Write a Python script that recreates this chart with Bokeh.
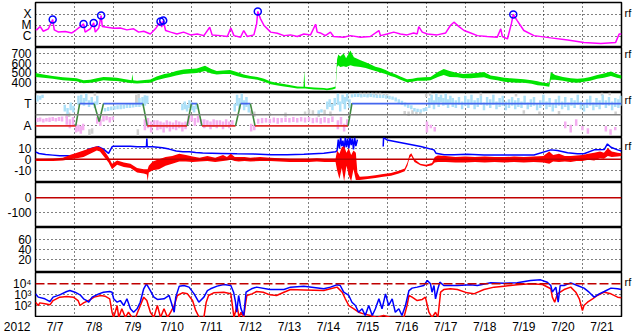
import math
from bokeh.plotting import figure
from bokeh.layouts import column
from bokeh.models import Range1d, FixedTicker, LinearAxis, LogAxis, Span
from bokeh.core.properties import value
from bokeh.embed import file_html
from bokeh.resources import INLINE

# ---------------- data (time in days since 2012-07-07 00:00 UT) ----------------
YEAR = "2012"
DAY_TICKS = [0.5 + i for i in range(15)]
DAY_LABELS = ["7/7", "7/8", "7/9", "7/10", "7/11", "7/12", "7/13", "7/14",
              "7/15", "7/16", "7/17", "7/18", "7/19", "7/20", "7/21"]
DAY_GRID = list(range(1, 15))

# X-ray flux (W/m2)
XRAY = [(0.0, 4e-6), (0.03, 4e-6), (0.12, 8e-6), (0.2, 3e-6), (0.33, 5e-6), (0.44, 3.5e-5),
        (0.48, 4e-6), (0.59, 2.5e-6), (0.76, 2.8e-6), (0.93, 2.1e-6), (1.02, 3.5e-6),
        (1.13, 7e-6), (1.23, 1.4e-5), (1.27, 2.5e-6), (1.40, 5e-6), (1.49, 1.7e-5),
        (1.53, 2.5e-6), (1.62, 6e-6), (1.68, 8e-5), (1.71, 8e-6), (1.83, 7e-6), (2.0, 5.7e-6),
        (2.17, 6e-6), (2.34, 4e-6), (2.51, 5e-6), (2.64, 2.5e-6), (2.77, 3e-6), (2.94, 1.7e-6),
        (3.07, 5e-6), (3.2, 2.3e-5), (3.23, 7e-6), (3.27, 2.8e-5), (3.33, 3.5e-6),
        (3.46, 2.5e-6), (3.62, 1.7e-6), (3.79, 2.5e-6), (3.97, 1.4e-6), (4.14, 1.7e-6),
        (4.31, 1.2e-6), (4.46, 7e-6), (4.52, 1.4e-6), (4.74, 1.2e-6), (4.91, 1e-6),
        (5.0, 6e-6), (5.08, 1.2e-6), (5.25, 8.7e-7), (5.33, 3.5e-6), (5.42, 1e-6),
        (5.59, 1.4e-6), (5.66, 1.4e-5), (5.69, 1.9e-4), (5.76, 4e-5), (5.85, 1e-5),
        (6.02, 2.5e-6), (6.19, 2e-6), (6.36, 1.2e-6), (6.53, 1.4e-6), (6.7, 1e-6),
        (6.87, 1.7e-6), (7.04, 1.4e-6), (7.17, 1.3e-5), (7.21, 2.5e-6), (7.29, 2.1e-6),
        (7.42, 1.2e-6), (7.55, 2.5e-6), (7.63, 1e-6), (7.89, 8.7e-7), (8.06, 1.2e-6),
        (8.32, 8.7e-7), (8.57, 1e-6), (8.79, 3.5e-6), (8.83, 1.2e-6), (9.0, 1.7e-6),
        (9.17, 2.5e-6), (9.34, 1.7e-6), (9.51, 1.4e-6), (9.68, 2.1e-6), (9.77, 1.7e-6),
        (9.81, 8e-6), (9.9, 2.5e-6), (10.03, 1.7e-6), (10.28, 1.4e-6), (10.5, 2.1e-6),
        (10.62, 1e-5), (10.71, 2e-5), (10.84, 8e-6), (10.97, 3.5e-6), (11.14, 2.1e-6),
        (11.31, 1.2e-6), (11.56, 1e-6), (11.82, 8.7e-7), (11.91, 5e-6), (11.95, 1e-6),
        (12.08, 6e-7), (12.18, 1.4e-5), (12.23, 1e-4), (12.33, 2.8e-5), (12.5, 3.5e-6),
        (12.76, 1.2e-6), (13.19, 7.5e-7), (13.62, 4.8e-7), (14.04, 2.9e-7), (14.47, 2.3e-7),
        (14.85, 2.9e-7), (14.94, 1.7e-6), (15.0, 1.7e-6)]
FLARES = [(0.44, 3.5e-5), (1.23, 1.4e-5), (1.49, 1.7e-5), (1.68, 8e-5), (3.2, 2.3e-5),
          (3.27, 2.8e-5), (5.69, 1.9e-4), (12.23, 1e-4)]
XRAY_TICKS = [1e-4, 1e-5, 1e-6]
XRAY_LABELS = ["X", "M", "C"]

# solar wind speed envelope (km/s): t, low, high
WIND = [(0.0, 460, 500), (0.2, 450, 485), (0.44, 440, 470), (0.7, 425, 455), (0.88, 420, 450),
        (1.05, 415, 445), (1.23, 395, 425), (1.4, 400, 430), (1.57, 410, 445), (1.74, 425, 460),
        (1.9, 420, 455), (2.08, 418, 450), (2.3, 405, 435), (2.46, 395, 425), (2.48, 400, 490),
        (2.5, 395, 425), (2.6, 392, 420), (2.8, 398, 428), (2.94, 400, 432), (3.1, 425, 465),
        (3.3, 445, 490), (3.45, 460, 500), (3.6, 475, 520), (3.79, 490, 535), (3.95, 495, 540),
        (4.13, 500, 545), (4.34, 520, 575), (4.5, 495, 540), (4.64, 485, 520), (4.8, 490, 525),
        (4.98, 490, 530), (5.15, 470, 510), (5.33, 450, 485), (5.5, 440, 470), (5.68, 430, 458),
        (5.85, 410, 440), (6.02, 385, 412), (6.2, 372, 398), (6.36, 362, 388), (6.5, 355, 378),
        (6.7, 342, 362), (6.86, 340, 358), (6.88, 340, 520), (6.9, 340, 358), (7.13, 332, 350),
        (7.38, 328, 346), (7.46, 322, 340), (7.6, 330, 350), (7.68, 340, 362), (7.72, 560, 640),
        (7.75, 580, 690), (7.8, 560, 670), (7.89, 570, 700), (7.95, 560, 650), (8.06, 580, 730),
        (8.15, 570, 660), (8.32, 560, 630), (8.45, 550, 610), (8.57, 535, 590), (8.7, 520, 565),
        (8.83, 505, 550), (8.96, 490, 530), (9.09, 470, 505), (9.2, 455, 490), (9.34, 430, 465),
        (9.51, 405, 435), (9.65, 410, 440), (9.77, 420, 450), (9.95, 420, 455), (10.11, 425, 460),
        (10.3, 460, 510), (10.45, 480, 540), (10.6, 460, 520), (10.8, 455, 500), (10.95, 445, 490),
        (11.14, 445, 495), (11.3, 450, 500), (11.48, 455, 510), (11.65, 435, 475), (11.82, 425, 465),
        (12.0, 410, 450), (12.16, 405, 445), (12.33, 400, 440), (12.5, 400, 435), (12.7, 390, 425),
        (12.85, 375, 415), (13.0, 370, 400), (13.15, 360, 395), (13.19, 430, 510), (13.3, 430, 480),
        (13.5, 420, 460), (13.7, 405, 445), (13.87, 400, 440), (14.04, 410, 445), (14.2, 420, 460),
        (14.38, 440, 480), (14.55, 450, 495), (14.73, 470, 515), (14.88, 450, 490), (15.0, 440, 475)]
WIND_TICKS = [700, 600, 500, 400]

# IMF sector (T = +1, A = -1)
SECTOR = [(0, -1), (1.03, -1), (1.13, 1), (1.5, 1), (1.63, -0.6), (1.74, 1), (2.75, 1), (2.86, -1),
          (3.88, -1), (3.99, 1), (4.14, 1), (4.26, -1), (5.12, -1), (5.25, 1), (5.5, 1), (5.62, -1),
          (8.0, -1), (8.1, 1), (15.0, 1)]
# IMF direction streaks: t, low, high
PHI_T = [(0.05, 1.2, 1.75), (0.12, 1.35, 1.7), (0.18, 1.5, 1.8), (0.75, 0.3, 0.9), (0.82, 0.0, 0.6),
         (0.9, 0.4, 1.1), (0.97, 0.2, 0.8), (1.1, 0.9, 1.7), (1.17, 1.0, 1.8), (1.24, 0.8, 1.5),
         (1.3, 1.2, 1.9), (1.37, 0.7, 1.3), (1.44, 0.9, 1.6), (1.52, 0.6, 1.2), (1.58, 0.9, 1.7),
         (1.78, 0.3, 0.6), (1.86, 0.35, 0.7), (1.94, 0.4, 0.75), (2.02, 0.45, 0.8), (2.1, 0.5, 0.85),
         (2.18, 0.5, 0.9), (2.26, 0.55, 0.9), (2.34, 0.6, 0.95), (2.42, 0.6, 1.0), (2.5, 0.65, 1.05),
         (2.58, 0.7, 1.1), (2.66, 0.7, 1.5), (2.74, 0.8, 1.6), (2.8, 0.8, 1.75), (2.86, 1.0, 1.7),
         (3.76, 0.4, 1.0), (3.82, 0.5, 1.2), (3.88, 0.3, 0.9), (3.94, 0.6, 1.3), (4.0, 0.4, 1.1),
         (4.06, 0.2, 0.8), (4.12, 0.5, 1.0), (5.1, 0.3, 1.0), (5.16, 0.8, 1.8), (5.22, 0.5, 1.5),
         (5.28, 1.0, 1.9), (5.34, 0.4, 1.3), (5.4, 0.7, 1.6), (5.46, 0.2, 0.9), (7.25, 0.1, 0.4),
         (7.32, 0.2, 0.5), (7.47, 0.5, 1.2), (7.53, 0.7, 1.4), (7.6, 0.4, 1.0), (7.66, 0.8, 1.5),
         (7.74, 0.9, 1.9), (7.8, 0.3, 1.2), (7.86, 1.0, 1.8), (7.92, 0.5, 1.6), (7.98, 1.2, 1.9),
         (8.04, 0.6, 1.4), (8.1, 1.55, 1.85), (8.18, 1.6, 1.9), (8.26, 1.6, 1.9), (8.34, 1.55, 1.85),
         (8.42, 1.6, 1.85), (8.5, 1.55, 1.85), (8.58, 1.6, 1.9), (8.66, 1.55, 1.85), (8.74, 1.5, 1.8),
         (8.82, 1.5, 1.8), (8.9, 1.5, 1.8), (8.98, 1.45, 1.75), (9.06, 1.4, 1.7), (9.14, 1.35, 1.65),
         (9.22, 1.2, 1.55), (9.3, 1.0, 1.4), (9.38, 0.9, 1.25), (9.46, 0.75, 1.1), (9.54, 0.6, 0.95),
         (9.62, 0.5, 0.85), (9.7, 0.3, 0.6), (9.78, 0.25, 0.55), (9.86, 0.2, 0.5), (9.94, 0.3, 0.6),
         (10.0, 0.35, 0.7), (10.08, 0.6, 1.5), (10.14, 0.9, 1.8), (10.2, 0.5, 1.3), (10.26, 1.0, 1.9),
         (10.32, 0.7, 1.6), (10.38, 1.1, 1.8), (10.44, 0.8, 1.5), (10.5, 0.9, 1.9), (10.56, 0.6, 1.4),
         (10.62, 1.0, 1.7), (10.68, 0.7, 1.5), (10.76, 0.6, 1.3), (10.84, 0.9, 1.6), (10.92, 0.5, 1.2),
         (11.0, 0.8, 1.7), (11.08, 0.6, 1.4), (11.16, 0.9, 1.8), (11.24, 0.5, 1.3), (11.32, 0.7, 1.5),
         (11.4, 0.9, 1.7), (11.48, 0.4, 1.1), (11.56, 0.8, 1.6), (11.64, 0.6, 1.4), (11.72, 0.9, 1.8),
         (11.8, 0.5, 1.2), (11.88, 0.7, 1.5), (11.96, 0.8, 1.7), (12.04, 0.4, 1.2), (12.12, 0.6, 1.4),
         (12.2, 0.8, 1.6), (12.28, 0.5, 1.3), (12.36, 0.7, 1.5), (12.44, 0.6, 1.2), (12.52, 0.9, 1.7),
         (12.6, 0.5, 1.1), (12.68, 0.7, 1.4), (12.76, 0.8, 1.6), (12.84, 0.4, 1.0), (12.92, 0.6, 1.3),
         (13.0, 0.9, 1.8), (13.08, 0.5, 1.2), (13.16, 0.7, 1.5), (13.24, 0.3, 1.0), (13.32, 0.6, 1.4),
         (13.4, 0.8, 1.7), (13.48, 0.5, 1.2), (13.56, 0.7, 1.6), (13.64, 0.4, 1.1), (13.72, 0.8, 1.5),
         (13.8, 0.6, 1.3), (13.88, 0.9, 1.8), (13.96, 0.5, 1.2), (14.04, 0.3, 1.0), (14.12, 0.6, 1.4),
         (14.2, 0.8, 1.7), (14.28, 0.4, 1.1), (14.36, 0.7, 1.5), (14.44, 0.5, 1.3), (14.52, 0.9, 1.8),
         (14.6, 0.6, 1.3), (14.68, 0.8, 1.6), (14.76, 0.4, 1.2), (14.84, 0.7, 1.5), (14.92, 0.6, 1.4),
         (14.98, 0.8, 1.7)]
PHI_A = [(0.05, -0.65, -0.3), (0.12, -0.6, -0.25), (0.2, -0.7, -0.35), (0.28, -0.6, -0.3),
         (0.36, -0.65, -0.25), (0.44, -0.55, -0.2), (0.52, -0.6, -0.3), (0.6, -0.55, -0.2),
         (0.68, -0.6, -0.15), (0.8, -0.9, -0.1), (0.88, -1.2, -0.4), (0.96, -1.0, -0.2),
         (1.04, -1.6, -0.8), (1.1, -1.5, -0.9), (1.16, -1.7, -1.0), (1.22, -1.4, -0.8),
         (1.58, -0.8, -0.2), (1.66, -1.0, -0.4), (1.74, -0.6, -0.1), (1.82, -0.5, -0.1),
         (1.9, -0.7, -0.2), (1.98, -0.5, -0.15), (2.8, -1.4, -0.4), (2.88, -1.2, -0.3),
         (2.96, -1.6, -0.6), (3.04, -1.1, -0.5), (3.12, -1.4, -0.5), (3.2, -1.3, -0.6),
         (3.28, -1.6, -0.7), (3.36, -1.2, -0.5), (3.44, -1.5, -0.6), (3.52, -1.3, -0.7),
         (3.6, -1.4, -0.5), (3.68, -1.2, -0.6), (3.76, -1.5, -0.7), (3.84, -1.3, -0.6),
         (3.92, -0.9, -0.1), (4.0, -0.6, 0.0), (4.08, -1.0, -0.3), (4.16, -0.7, -0.1),
         (4.24, -0.9, -0.4), (4.32, -1.2, -0.4), (4.4, -1.0, -0.5), (4.48, -1.3, -0.6),
         (4.56, -1.1, -0.4), (4.64, -1.2, -0.5), (4.72, -1.0, -0.5), (4.8, -1.3, -0.6),
         (4.88, -1.1, -0.4), (4.96, -1.2, -0.6), (5.04, -1.0, -0.5), (5.52, -1.5, -0.8),
         (5.6, -1.4, -0.9), (5.7, -0.8, -0.35), (5.8, -0.75, -0.3), (5.9, -0.7, -0.3),
         (6.0, -0.75, -0.35), (6.1, -0.7, -0.25), (6.2, -0.8, -0.3), (6.3, -0.7, -0.3),
         (6.4, -0.65, -0.25), (6.5, -0.7, -0.3), (6.6, -0.65, -0.2), (6.7, -0.7, -0.3),
         (6.8, -0.6, -0.2), (6.9, -0.7, -0.25), (7.0, -0.6, -0.2), (7.1, -0.75, -0.3),
         (7.2, -0.7, -0.25), (7.3, -0.8, -0.3), (7.4, -0.7, -0.2), (7.5, -0.75, -0.3),
         (7.6, -0.65, -0.15), (7.74, -1.3, -0.5), (7.82, -0.9, -0.2), (7.9, -1.5, -0.8),
         (7.98, -1.1, -0.4), (10.02, -1.6, -0.6), (10.12, -1.2, -0.9), (10.22, -1.5, -1.1),
         (13.56, -1.2, -0.6), (13.7, -1.6, -0.9), (13.84, -1.0, -0.4), (14.0, -1.4, -1.0),
         (14.14, -1.7, -1.2), (14.6, -1.5, -1.0), (14.72, -1.8, -1.3), (14.84, -1.4, -1.1)]
PHI_X = [(0.8, -0.3, 0.1), (0.86, -0.2, 0.2), (1.38, -1.9, -1.3), (1.45, -1.7, -1.2), (1.52, 1.7, 2.0),
         (2.58, 0.9, 1.8), (2.64, 1.1, 1.9), (2.62, -1.9, -1.3), (5.52, 0.0, 0.4), (5.6, -0.2, 0.3),
         (6.0, -0.1, 0.15), (6.4, -0.2, 0.2), (6.9, 0.0, 0.3), (7.0, 0.1, 0.5), (7.1, 0.0, 0.4),
         (7.25, -0.2, 0.2), (7.4, 0.05, 0.45), (7.55, -0.1, 0.3), (8.32, 1.75, 2.0), (8.42, 1.8, 2.0),
         (8.52, 1.75, 2.0), (8.62, 1.8, 2.0), (8.72, 1.75, 2.0), (8.82, 1.8, 2.0), (8.92, 1.75, 1.95),
         (9.0, 1.7, 1.95), (9.45, 0.0, 0.35), (9.55, -0.1, 0.3), (9.65, 0.05, 0.4), (9.75, -0.05, 0.3),
         (9.85, 0.0, 0.25), (10.0, 1.6, 1.9), (10.1, 1.7, 2.0), (11.4, 1.7, 2.0), (12.3, 1.65, 1.95),
         (12.5, 0.1, 0.4), (12.9, 0.0, 0.3), (13.4, 0.05, 0.35), (14.5, 1.7, 2.0), (14.7, 1.75, 2.0),
         (14.85, 0.0, 0.3)]

# IMF |B| (nT) with a data gap
BT = [(0.0, 6.8), (0.09, 5.3), (0.26, 4.4), (0.44, 3.8), (0.62, 3.2), (0.88, 3.2), (1.06, 3.8),
      (1.23, 5.4), (1.36, 9.3), (1.49, 10.5), (1.62, 11.4), (1.74, 9.3), (1.87, 5.4), (1.96, 11.4),
      (2.0, 12.0), (2.43, 12.0), (2.6, 11.4), (2.84, 11.4), (2.85, 19.0), (2.86, 11.4), (3.0, 11.4),
      (3.25, 10.5), (3.42, 9.3), (3.6, 7.6), (3.77, 6.8), (3.94, 6.8), (4.1, 6.1), (4.28, 5.8),
      (4.74, 5.4), (5.16, 5.0), (5.59, 4.8), (6.02, 4.1), (6.44, 4.1), (6.87, 4.6), (7.38, 5.6),
      (7.68, 6.8), (7.72, 8.0), (7.75, 18.0), (7.78, 10.0), (7.81, 20.0), (7.84, 12.0), (7.87, 17.0),
      (7.9, 8.0), (7.93, 20.0), (7.96, 11.0), (7.99, 19.0), (8.02, 10.0), (8.05, 20.0), (8.08, 13.0),
      (8.11, 19.0), (8.14, 9.0), (8.17, 20.0), (8.2, 12.0), (8.24, 18.0), (8.25, float("nan")),
      (8.9, 11.6), (8.91, 19.8), (9.0, 17.7), (9.43, 14.7), (9.86, 11.6), (10.2, 8.6), (10.25, 5.6),
      (10.46, 4.1), (10.72, 4.1), (11.05, 4.5), (11.48, 4.0), (11.9, 4.0), (12.33, 4.0), (12.76, 4.0),
      (13.19, 8.6), (13.36, 8.0), (13.62, 6.0), (13.87, 5.0), (14.04, 5.0), (14.3, 8.6), (14.56, 9.0),
      (14.64, 14.0), (14.73, 11.0), (14.9, 8.6), (15.0, 7.5)]
# IMF Bz envelope (nT): t, low, high
BZ = [(0.0, -1.5, 0.5), (0.2, -1.5, 0.5), (0.45, -1.5, 0.8), (0.7, -1.0, 1.5), (0.88, 0.0, 4.0),
      (1.06, 1.0, 6.0), (1.23, 2.0, 8.0), (1.4, 5.0, 10.0), (1.57, 8.0, 12.0), (1.65, 7.0, 11.0),
      (1.74, 3.0, 9.0), (1.87, -3.0, 2.0), (1.96, -9.0, -4.0), (2.09, -5.0, -1.0), (2.26, -7.0, -3.0),
      (2.43, -8.0, -4.0), (2.6, -12.0, -8.0), (2.77, -13.0, -9.0), (2.85, -14.0, -9.0),
      (2.87, -20.0, -9.0), (2.9, -12.0, -6.0), (3.0, -10.0, -2.0), (3.16, -9.0, 0.0),
      (3.33, -6.0, 2.0), (3.5, -4.0, 3.0), (3.68, -2.0, 5.0), (3.85, -2.0, 4.0),
      (4.02, -2.5, 2.5), (4.2, -2.0, 1.5), (4.4, -1.5, 3.0), (4.6, -2.5, 1.5), (4.8, -1.5, 4.0),
      (4.9, -1.0, 2.0), (5.0, -0.5, 5.0), (5.1, -1.5, 2.0), (5.2, -2.0, 2.0), (5.35, -1.5, 2.0),
      (5.5, -2.0, 1.5), (5.75, -1.5, 2.0), (6.0, -1.5, 1.5), (6.25, -2.0, 1.0), (6.5, -2.5, 0.5),
      (6.75, -2.5, 0.5), (7.0, -2.5, 0.5), (7.2, -2.0, 1.0), (7.4, -2.5, 0.5), (7.68, -2.5, 0.5),
      (7.72, -10.0, 8.0), (7.78, -18.0, 5.0), (7.84, -8.0, 11.0), (7.9, -20.0, 12.0),
      (7.96, -6.0, 6.0), (8.02, -15.0, 10.0), (8.08, -20.0, 4.0), (8.14, -9.0, 8.0),
      (8.2, -19.0, 6.0), (8.24, -19.0, -12.0), (8.3, -19.0, -16.0), (8.5, -18.0, -15.5),
      (8.7, -17.0, -14.5), (8.9, -16.0, -13.5), (9.1, -15.0, -12.5), (9.3, -13.0, -10.5),
      (9.45, -11.0, -8.5), (9.52, -6.0, -3.0), (9.57, 1.0, 4.0), (9.62, 3.0, 5.5), (9.7, -2.5, 0.0),
      (9.85, -5.5, -4.0), (10.0, -6.5, -5.0), (10.15, -5.5, -3.5), (10.22, -3.0, 2.0),
      (10.3, -2.5, 3.5), (10.5, -2.5, 3.0), (10.75, -3.0, 2.0), (11.0, -3.0, 2.5), (11.25, -2.5, 2.0),
      (11.5, -3.0, 2.5), (11.75, -2.5, 2.0), (12.0, -3.0, 2.0), (12.25, -2.5, 2.5), (12.5, -3.0, 2.0),
      (12.75, -2.5, 2.5), (13.0, -3.0, 3.0), (13.15, -4.0, 7.0), (13.25, -2.0, 4.0), (13.4, -2.5, 5.0),
      (13.55, -2.0, 3.0), (13.7, -2.5, 3.0), (13.85, -1.5, 3.5), (14.0, -1.5, 4.0), (14.15, -0.5, 5.0),
      (14.3, -1.0, 6.0), (14.45, 1.0, 7.0), (14.55, 0.5, 6.0), (14.65, 3.0, 10.0), (14.75, 2.0, 7.0),
      (14.9, 2.5, 6.0), (15.0, 3.0, 5.5)]

# particle fluxes, log10 values
FLUX_BLUE = [(0.0, 3.09), (0.07, 2.79), (0.24, 2.64), (0.37, 2.39), (0.45, 2.79), (0.62, 3.0),
             (0.8, 3.3), (0.88, 3.39), (1.01, 3.24), (1.14, 3.0), (1.23, 2.64), (1.3, 2.5),
             (1.36, 2.33), (1.45, 2.79), (1.62, 3.09), (1.74, 3.24), (1.9, 3.3), (1.96, 3.24),
             (2.0, 2.64), (2.09, 2.33), (2.17, 2.48), (2.26, 2.03), (2.34, 2.64), (2.43, 1.73),
             (2.51, 1.42), (2.6, 1.73), (2.68, 2.33), (2.77, 3.55), (2.84, 4.0), (2.94, 3.39),
             (3.03, 2.79), (3.12, 2.58), (3.29, 2.64), (3.42, 2.94), (3.5, 2.03), (3.55, 1.42),
             (3.59, 2.79), (3.68, 3.79), (3.8, 3.85), (3.93, 3.7), (4.06, 3.09), (4.18, 2.33),
             (4.31, 2.79), (4.4, 3.39), (4.48, 3.55), (4.65, 3.79), (4.82, 3.94), (5.0, 3.85),
             (5.07, 3.24), (5.12, 2.33), (5.15, 1.42), (5.2, 2.94), (5.26, 1.73), (5.33, 1.12),
             (5.39, 3.24), (5.45, 3.39), (5.53, 3.55), (5.66, 3.7), (6.0, 3.48), (6.36, 3.48),
             (6.53, 3.7), (6.87, 3.79), (7.38, 3.55), (7.55, 3.7), (7.72, 3.91), (7.8, 3.85),
             (7.89, 3.24), (8.02, 2.94), (8.1, 2.33), (8.19, 2.03), (8.27, 1.42), (8.36, 1.73),
             (8.44, 1.12), (8.53, 2.03), (8.62, 1.12), (8.7, 1.73), (8.79, 2.64), (8.87, 1.73),
             (8.96, 3.09), (9.04, 2.03), (9.13, 2.64), (9.21, 1.42), (9.3, 1.73), (9.38, 1.12),
             (9.47, 2.03), (9.56, 3.39), (9.64, 3.61), (9.77, 3.7), (9.94, 3.85), (10.03, 4.3),
             (10.11, 4.0), (10.15, 3.24), (10.2, 3.85), (10.24, 2.64), (10.3, 3.55), (10.35, 4.15),
             (10.45, 3.85), (10.8, 3.85), (11.14, 3.91), (11.31, 3.85), (11.65, 4.09), (11.99, 4.06),
             (12.33, 4.09), (12.67, 4.3), (12.93, 4.36), (13.1, 4.15), (13.19, 3.85), (13.23, 3.24),
             (13.32, 3.7), (13.38, 2.33), (13.43, 3.85), (13.53, 3.85), (13.7, 4.09), (13.87, 3.85),
             (14.04, 3.61), (14.17, 3.24), (14.3, 2.79), (14.43, 3.09), (14.56, 3.3), (14.73, 3.61),
             (14.9, 3.55), (15.0, 3.48)]
FLUX_RED = [(0.0, 2.33), (0.07, 2.03), (0.11, 2.27), (0.24, 2.18), (0.37, 2.09), (0.45, 2.48),
            (0.62, 2.79), (0.8, 2.85), (0.97, 2.79), (1.09, 2.48), (1.14, 2.03), (1.23, 2.27),
            (1.36, 2.48), (1.5, 2.79), (1.67, 2.94), (1.78, 2.88), (1.9, 2.64), (1.96, 1.42),
            (2.0, 0.95), (2.09, 2.03), (2.13, 0.95), (2.21, 1.73), (2.3, 0.95), (2.38, 1.42),
            (2.47, 0.95), (2.56, 0.95), (2.65, 1.73), (2.77, 2.79), (2.85, 2.48), (2.94, 1.42),
            (3.03, 0.95), (3.12, 2.03), (3.2, 0.95), (3.29, 1.73), (3.38, 0.95), (3.46, 1.42),
            (3.55, 2.03), (3.63, 2.94), (3.76, 3.18), (3.89, 3.09), (4.02, 2.48), (4.1, 1.58),
            (4.19, 0.95), (4.31, 0.95), (4.37, 2.33), (4.43, 2.94), (4.56, 3.18), (4.82, 3.24),
            (5.0, 3.09), (5.04, 2.03), (5.08, 0.95), (5.16, 2.03), (5.21, 0.95), (5.26, 1.42),
            (5.33, 0.95), (5.37, 2.03), (5.41, 2.94), (5.54, 3.09), (5.66, 3.3), (5.83, 3.24),
            (6.0, 3.0), (6.17, 2.94), (6.36, 3.24), (6.53, 3.48), (6.87, 3.45), (7.38, 3.39),
            (7.55, 3.55), (7.72, 3.7), (7.85, 3.24), (7.93, 2.64), (8.02, 2.03), (8.15, 1.73),
            (8.27, 1.42), (8.4, 1.27), (8.57, 1.12), (8.74, 0.95), (8.91, 1.12), (9.09, 0.95),
            (9.26, 0.95), (9.43, 0.95), (9.51, 2.03), (9.56, 2.94), (9.64, 2.79), (9.77, 2.48),
            (9.9, 2.58), (9.98, 2.79), (10.07, 1.42), (10.15, 0.95), (10.24, 1.42), (10.3, 0.95),
            (10.37, 3.24), (10.45, 3.48), (10.62, 3.55), (10.8, 3.48), (11.05, 3.18), (11.22, 3.09),
            (11.48, 3.48), (11.74, 3.7), (11.99, 3.79), (12.33, 3.91), (12.67, 4.0), (12.98, 3.94),
            (13.19, 3.55), (13.23, 2.79), (13.29, 2.33), (13.36, 3.09), (13.53, 3.48), (13.7, 3.7),
            (13.83, 3.24), (13.92, 2.64), (14.0, 1.58), (14.04, 2.03), (14.13, 2.33), (14.26, 2.64),
            (14.38, 2.94), (14.56, 3.24), (14.73, 3.09), (14.9, 2.79), (15.0, 2.73)]

# ---------------- styling helpers ----------------
FONT = "Liberation Sans"
FS = "12px"
DOT = "1 3"
LEFT, RIGHT, FRAME_W, FRAME_H = 32, 15, 586, 45


def cols(rows):
    return [list(c) for c in zip(*rows)]


def plain_axis(a, size=FS):
    a.axis_line_color = None
    a.major_tick_line_color = None
    a.minor_tick_line_color = None
    a.major_tick_out = 0
    a.major_tick_in = 0
    a.minor_tick_out = 0
    a.minor_tick_in = 0
    a.major_label_text_font = FONT
    a.major_label_text_font_size = size
    a.major_label_text_color = "black"


def base(yr, log=False, top=0, height=FRAME_H):
    return figure(frame_width=FRAME_W, frame_height=height,
                  x_range=Range1d(0, 15), y_range=yr,
                  y_axis_type="log" if log else "linear",
                  x_axis_location=None,
                  output_backend="svg", toolbar_location=None,
                  min_border_left=LEFT, min_border_right=RIGHT,
                  min_border_top=top, min_border_bottom=0)


def panel(yr, yticks, ylabels, ygrid, log=False, top=0, rf=None):
    p = base(yr, log=log, top=top)
    p.background_fill_color = "white"
    p.border_fill_color = "white"
    p.outline_line_color = "black"
    p.outline_line_width = 1.5
    ax = p.yaxis[0]
    ax.ticker = FixedTicker(ticks=yticks)
    ax.major_label_overrides = dict(zip(yticks, ylabels))
    plain_axis(ax)
    ax.major_label_standoff = 4
    p.xgrid.ticker = FixedTicker(ticks=DAY_GRID)
    p.xgrid.grid_line_color = "black"
    p.xgrid.grid_line_dash = DOT
    p.xgrid.grid_line_width = 1
    p.ygrid.ticker = FixedTicker(ticks=ygrid)
    p.ygrid.grid_line_color = "black"
    p.ygrid.grid_line_dash = DOT
    p.ygrid.grid_line_width = 1
    if rf is not None:
        ra = (LogAxis if log else LinearAxis)(ticker=FixedTicker(ticks=[rf]),
                                              major_label_overrides={rf: "rf"})
        plain_axis(ra, "11px")
        ra.major_label_standoff = 3
        p.add_layout(ra, "right")
    return p


# 1: X-ray
p1 = panel(Range1d(1e-7, 1.23e-3), XRAY_TICKS, XRAY_LABELS, XRAY_TICKS, log=True, top=2, rf=1.3e-4)
xt, xf = cols(XRAY)
p1.line(xt, xf, line_color="#ff00ff", line_width=1.5)
ft, ff = cols(FLARES)
p1.scatter(ft, ff, marker="circle", size=7, fill_color=None, line_color="#0000ff", line_width=1.5)

# 2: solar wind speed
p2 = panel(Range1d(300, 761), WIND_TICKS, [str(v) for v in WIND_TICKS], WIND_TICKS, rf=700)
wt, wl, wh = cols(WIND)
p2.varea(x=wt, y1=wl, y2=wh, fill_color="#00e400")

# 3: IMF sector
p3 = panel(Range1d(-2.04, 2.0), [1, -1], ["T", "A"], [1, -1], rf=1.3)
for rows, colr in [(PHI_X, "#cfcfcf"), (PHI_A, "#f4aef0"), (PHI_T, "#ace0f8")]:
    st, sl, sh = cols(rows)
    p3.segment(x0=st, y0=sl, x1=st, y1=sh, line_color=colr, line_width=2.5)
p3.add_layout(Span(location=0, dimension="width", line_color="#808080", line_width=1.5))
sx, sv = cols(SECTOR)
seg_col = []
for i in range(len(sx) - 1):
    if sv[i] == 1 and sv[i + 1] == 1:
        seg_col.append("#4466ee")
    elif sv[i] == -1 and sv[i + 1] == -1:
        seg_col.append("#e02828")
    else:
        seg_col.append("#3f8a3f")
p3.segment(x0=sx[:-1], y0=sv[:-1], x1=sx[1:], y1=sv[1:], line_color=seg_col, line_width=1.6)

# 4: IMF Bt / Bz
p4 = panel(Range1d(-21.2, 19.9), [10, 0, -10], ["10", "0", "-10"], [10, -10], rf=12.5)
p4.add_layout(Span(location=0, dimension="width", line_color="#c00000", line_width=1.5))
bt_t, bt_v = cols(BT)
p4.line(bt_t, bt_v, line_color="#0000ff", line_width=1.5)
bz_t, bz_l, bz_h = cols(BZ)
p4.varea(x=bz_t, y1=bz_l, y2=bz_h, fill_color="#ff0000")

# 5: Dst (empty)
p5 = panel(Range1d(-206, 106), [0, -100], ["0", "-100"], [-100])
p5.add_layout(Span(location=0, dimension="width", line_color="#c00000", line_width=1.5))

# 6: empty
p6 = panel(Range1d(-5.4, 84.6), [60, 40, 20], ["60", "40", "20"], [60, 40, 20])

# 7: particle fluxes
p7 = panel(Range1d(10 ** 0.94, 10 ** 5.03), [1e4, 1e3, 1e2], ["10\u2074", "10\u00b3", "10\u00b2"],
           [1e3, 1e2], log=True, rf=10 ** 4.15)
p7.add_layout(Span(location=1e4, dimension="width", line_color="#c00000", line_width=1.5,
                   line_dash="9 3"))
rt, rl = cols(FLUX_RED)
p7.line(rt, [10 ** v for v in rl], line_color="#ff0000", line_width=1.5)
bt2, bl2 = cols(FLUX_BLUE)
p7.line(bt2, [10 ** v for v in bl2], line_color="#0000ff", line_width=1.5)

# date strip: same time scale as the panels; year on its left axis
strip = base(Range1d(0, 1), height=17)
strip.outline_line_color = None
strip.xgrid.visible = False
strip.ygrid.visible = False
sa = strip.yaxis[0]
sa.ticker = FixedTicker(ticks=[0.47])
sa.major_label_overrides = {0.47: YEAR}
plain_axis(sa)
sa.major_label_standoff = 5
strip.text(x=DAY_TICKS, y=[0.47] * len(DAY_TICKS), text=DAY_LABELS,
           text_font=value(FONT), text_font_size=value(FS), text_color="black",
           text_align="center", text_baseline="middle")

layout = column(p1, p2, p3, p4, p5, p6, p7, strip, spacing=0)
open("out.html", "w").write(file_html(layout, INLINE))
